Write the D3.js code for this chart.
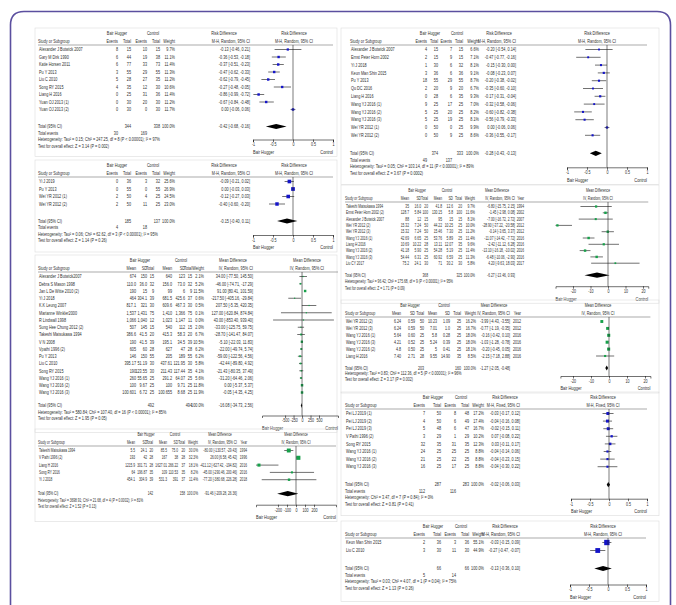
<!DOCTYPE html>
<html>
<head>
<meta charset="utf-8">
<script src="https://cdn.jsdelivr.net/npm/d3@7"></script>
<style>
body{margin:0;background:#fff;}
</style>
</head>
<body>
<svg id="chart" width="676" height="605"></svg>
<script>
const FONT = '"Liberation Sans",Arial,sans-serif';
const NARROW = 0.76; //the figure uses a condensed face, so text is squeezed sideways

//risk difference rows: [study, BH events, BH total, control events, control total, weight %, RD, lower, upper]
const rdInfection = [
	["Alexander J Butwick 2007", 8, 15, 10, 15, 9.7, -0.13, -0.46, 0.21],
	["Gary M Dirk 1990", 6, 44, 19, 38, 11.1, -0.36, -0.53, -0.18],
	["Katie Horsen 2011", 6, 77, 33, 73, 11.4, -0.37, -0.51, -0.23],
	["Pu Y 2013", 3, 55, 29, 55, 11.3, -0.47, -0.62, -0.33],
	["Liu C 2010", 5, 28, 27, 35, 11.2, -0.62, -0.79, -0.45],
	["Song RY 2015", 4, 35, 12, 30, 10.6, -0.27, -0.48, -0.05],
	["Liang H 2016", 0, 25, 31, 36, 11.4, -0.86, -0.99, -0.72],
	["Yuan OJ 2013 (1)", 0, 30, 20, 30, 11.2, -0.67, -0.84, -0.48],
	["Yuan OJ 2013 (2)", 0, 30, 0, 30, 11.7, 0.00, -0.06, 0.06]
];
const rdInfectionTotal = [344, 338, 100.0, -0.42, -0.68, -0.16];
const rdInfectionEvents = [30, 169];
const rdInfectionNotes = ["Heterogeneity: Tau² = 0.15; Chi² = 247.25, df = 8 (P < 0.00001); I² = 97%", "Test for overall effect: Z = 3.14 (P = 0.002)"];

const rdNausea = [
	["Yi J 2019", 0, 36, 3, 32, 25.6, -0.09, -0.21, 0.02],
	["Pu Y 2013", 0, 55, 0, 55, 26.9, 0.00, -0.03, 0.03],
	["Wei YR 2012 (1)", 2, 50, 4, 25, 24.5, -0.12, -0.27, 0.03],
	["Wei YR 2012 (2)", 2, 50, 11, 25, 23.0, -0.40, -0.60, -0.20]
];
const rdNauseaTotal = [185, 137, 100.0, -0.15, -0.40, 0.11];
const rdNauseaEvents = [4, 18];
const rdNauseaNotes = ["Heterogeneity: Tau² = 0.06; Chi² = 62.62, df = 3 (P < 0.00001); I² = 95%", "Test for overall effect: Z = 1.14 (P = 0.26)"];

const rdShiver = [
	["Alexander J Butwick 2007", 4, 15, 7, 15, 6.6, -0.20, -0.54, 0.14],
	["Ernst Peter Horn 2002", 2, 15, 9, 15, 7.1, -0.47, -0.77, -0.16],
	["Yi J 2018", 1, 30, 6, 32, 8.1, -0.15, -0.30, -0.00],
	["Keun Man Shin 2015", 3, 36, 6, 36, 9.1, -0.08, -0.23, 0.07],
	["Pu Y 2013", 18, 55, 29, 55, 8.7, -0.20, -0.38, -0.02],
	["Qu DC 2016", 2, 20, 9, 20, 6.7, -0.35, -0.60, -0.10],
	["Liang H 2016", 0, 28, 6, 35, 9.3, -0.17, -0.31, -0.04],
	["Wang YJ 2016  (1)", 9, 25, 17, 25, 7.0, -0.32, -0.58, -0.06],
	["Wang YJ 2016  (2)", 5, 25, 20, 25, 8.2, -0.60, -0.82, -0.38],
	["Wang YJ 2016  (3)", 5, 25, 19, 25, 8.1, -0.56, -0.79, -0.33],
	["Wei YR 2012  (1)", 0, 50, 0, 25, 9.9, 0.00, -0.06, 0.06],
	["Wei YR 2012  (2)", 0, 50, 9, 25, 8.6, -0.36, -0.55, -0.17]
];
const rdShiverTotal = [374, 333, 100.0, -0.28, -0.43, -0.13];
const rdShiverEvents = [49, 137];
const rdShiverNotes = ["Heterogeneity: Tau² = 0.05; Chi² = 103.14, df = 11 (P < 0.00001); I² = 89%", "Test for overall effect: Z = 3.67 (P = 0.0002)"];

const rdPain = [
	["Pei LJ 2019 (1)", 7, 50, 8, 48, 17.2, -0.03, -0.17, 0.12],
	["Pei LJ 2019 (2)", 4, 50, 6, 49, 17.4, -0.04, -0.16, 0.08],
	["Pei LJ 2019 (3)", 5, 48, 6, 47, 16.7, -0.02, -0.15, 0.11],
	["V Pathi 1996 (2)", 3, 29, 1, 29, 10.2, 0.07, -0.08, 0.22],
	["Song RY 2015", 32, 35, 31, 35, 12.3, 0.03, -0.11, 0.17],
	["Wang YJ 2016 (1)", 24, 25, 25, 25, 8.8, -0.04, -0.14, 0.06],
	["Wang YJ 2016 (2)", 21, 25, 22, 25, 8.8, -0.04, -0.23, 0.15],
	["Wang YJ 2016 (3)", 16, 25, 17, 25, 8.8, -0.04, -0.30, 0.22]
];
const rdPainTotal = [287, 283, 100.0, -0.02, -0.06, 0.03];
const rdPainEvents = [112, 116];
const rdPainNotes = ["Heterogeneity: Chi² = 3.47, df = 7 (P = 0.84); I² = 0%", "Test for overall effect: Z = 0.81 (P = 0.41)"];

const rdItch = [
	["Keun Man Shin 2015", 2, 36, 3, 36, 55.1, -0.03, -0.15, 0.09],
	["Liu C 2010", 3, 30, 11, 30, 44.9, -0.27, -0.47, -0.07]
];
const rdItchTotal = [66, 66, 100.0, -0.13, -0.36, 0.10];
const rdItchEvents = [5, 14];
const rdItchNotes = ["Heterogeneity: Tau² = 0.03; Chi² = 4.07, df = 1 (P = 0.04); I² = 75%", "Test for overall effect: Z = 1.13 (P = 0.26)"];

//mean difference rows: [study, BH mean, BH SD, BH total, control mean, control SD, control total, weight %, MD, lower, upper, (year)]
const mdBlood = [
	["Alexander J Butwick2007", "674", "150", 15, "640", "123", 15, 2.1, 34.00, -77.50, 145.50],
	["Debra S Mason 1998", "110.0", "36.0", 32, "156.0", "73.0", 32, 5.2, -46.00, -74.71, -17.29],
	["Jan L De Witte 2010 (2)", "190", "15", 9, "99", "6", 9, 11.5, 91.00, 80.41, 101.59],
	["Yi J 2018", "464", "304.1", 39, "681.5", "425.6", 37, 0.6, -217.50, -405.16, -29.84],
	["K.K Leung 2007", "817.1", "321", 30, "609.6", "467.3", 30, 0.5, 207.50, -5.35, 420.35],
	["Marianne Winkler2000", "1,537", "1,431", 75, "1,410", "1,366", 75, 0.1, 127.00, -620.84, 874.84],
	["R Lindwall 1998", "1,066", "1,040", 12, "1,023", "1,147", 11, 0.0, 43.00, -853.40, 939.40],
	["Sung Hee Chung 2012 (2)", "507", "145", 15, "540", "112", 15, 2.0, -33.00, -125.75, 59.75],
	["Takeshi Matsukawa 1994", "386.6", "41.5", 20, "415.3", "58.3", 20, 6.7, -28.70, -141.47, 84.07],
	["V N 2008", "190", "41.5", 39, "195.1", "34.5", 39, 10.5, -5.10, -22.03, 11.83],
	["Vpathi 1996 (2)", "605", "60", 28, "627", "47", 28, 6.2, -22.00, -49.74, 5.74],
	["Pu Y 2013", "146", "150", 55, "205", "189", 55, 6.2, -59.00, -122.56, 4.56],
	["Liu C 2010", "395.17", "51.19", 30, "437.61", "121.95", 30, 5.8, -42.44, -89.80, 4.92],
	["Song RY 2015", "190", "123.55", 30, "211.43", "117.44", 35, 4.1, -21.43, -80.35, 37.49],
	["Wang YJ 2016 (1)", "260", "55.65", 25, "291.2", "64.07", 25, 5.6, -31.20, -64.46, 2.06],
	["Wang YJ 2016 (2)", "100", "9.67", 25, "100", "9.71", 25, 11.8, 0.00, -5.37, 5.37],
	["Wang YJ 2016 (3)", "100.601", "6.72", 25, "100.655", "8.68", 25, 11.9, -0.05, -4.35, 4.25]
];
const mdBloodTotal = [492, 494, 100.0, -16.08, -34.73, 2.56];
const mdBloodNotes = ["Heterogeneity: Tau² = 580.84; Chi² = 107.40, df = 16 (P < 0.00001); I² = 85%", "Test for overall effect: Z = 1.95 (P = 0.05)"];

const mdLoss = [
	["Takeshi Matsukawa 1994", "5.5", "24.1", 20, "85.5", "75.0", 20, 30.0, -80.00, -130.57, -29.43, 1994],
	["V Pathi 1996 (2)", "193", "42", 28, "167", "38", 28, 32.3, 26.00, 6.58, 45.42, 1996],
	["Liang H 2016", "1215.9", "301.71", 28, "1627.01", "266.22", 37, 18.1, -411.12, -627.42, -194.82, 2016],
	["Song RY 2016", "64", "196.87", 35, "109", "110.53", 35, 8.2, -45.00, -290.46, 200.46, 2016],
	["Yi J 2018", "454.1", "304.9", 39, "531.3", "391", 37, 11.4, -77.20, -380.68, 226.28, 2018]
];
const mdLossTotal = [142, 158, 100.0, -91.46, -209.28, 26.36];
const mdLossNotes = ["Heterogeneity: Tau² = 3698.91; Chi² = 21.68, df = 4 (P = 0.0002); I² = 81%", "Test for overall effect: Z = 1.52 (P = 0.13)"];

const mdTemp = [
	["Takeshi Matsukawa 1994", "35", "16.0", 20, "41.8", "12.6", 20, 9.7, -6.80, -15.75, 2.15, 1994],
	["Ernst Peter Horn 2002  (2)", "128.7", "5.84", 100, "130.15", "5.8", 100, 11.6, -1.45, -2.98, 0.08, 2002],
	["Alexander J Butwick 2007", "88", "12", 15, "95", "15", 15, 8.1, -7.00, -16.72, 2.72, 2007],
	["Wei YR 2012  (2)", "15.32", "7.24", 50, "44.22", "10.25", 25, 10.0, -28.90, -37.22, -20.58, 2012],
	["Wei YR 2012  (3)", "15.32", "7.24", 50, "15.46", "7.30", 25, 11.2, -0.14, -3.65, 3.37, 2012],
	["Wang YJ 2016  (1)", "42.69", "6.65", 25, "53.76", "5.89", 25, 11.4, -11.07, -14.42, -7.72, 2016],
	["Liang H 2016", "10.69", "10.22", 28, "13.11", "12.07", 35, 9.6, -2.42, -11.12, 6.28, 2016],
	["Wang YJ 2016  (2)", "41.18", "5.90", 25, "54.28", "5.19", 25, 11.4, -13.10, -16.18, -10.02, 2016],
	["Wang YJ 2016  (3)", "54.44", "6.31", 25, "60.92", "6.59", 25, 11.3, -6.48, -10.06, -2.90, 2016],
	["Liu CY 2017", "75.2", "24.1", 30, "71", "30.2", 30, 5.8, 4.20, -9.63, 18.03, 2017]
];
const mdTempTotal = [368, 325, 100.0, -6.27, -13.46, 0.93];
const mdTempNotes = ["Heterogeneity: Tau² = 96.42; Chi² = 175.68, df = 9 (P < 0.00001); I² = 95%", "Test for overall effect: Z = 1.71 (P = 0.09)"];

const mdRecovery = [
	["Wei YR 2012 (2)", "6.24", "0.59", 50, "10.23", "1.09", 25, 16.2, -3.99, -4.43, -3.55, 2012],
	["Wei YR 2012 (3)", "6.24", "0.59", 50, "7.01", "1.0", 25, 16.7, -0.77, -1.19, -0.35, 2012],
	["Wang YJ 2016 (1)", "5.64", "0.60", 25, "5.8", "0.28", 25, 18.0, -0.16, -0.42, 0.10, 2016],
	["Wang YJ 2016 (3)", "4.21", "0.52", 25, "5.24", "0.39", 25, 18.0, -1.03, -1.28, -0.78, 2016],
	["Wang YJ 2016 (2)", "4.8", "0.50", 25, "5", "0.41", 25, 18.1, -0.20, -0.45, 0.05, 2016],
	["Liang H 2016", "7.40", "2.71", 28, "9.55", "14.90", 35, 8.5, -2.15, -7.18, 2.88, 2016]
];
const mdRecoveryTotal = [203, 160, 100.0, -1.27, -2.05, -0.48];
const mdRecoveryNotes = ["Heterogeneity: Tau² = 0.83; Chi² = 112.36, df = 5 (P < 0.00001); I² = 96%", "Test for overall effect: Z = 3.17 (P = 0.002)"];

const ticksRD = [-1, -0.5, 0, 0.5, 1];
const ticksBlood = [-500, -250, 0, 250, 500];
const ticksLoss = [-200, -100, 0, 100, 200];
const ticksTemp = [-20, -10, 0, 10, 20];

const rdHeads = ["Events", "Total", "Events", "Total", "Weight"];
const mdHeads = ["Mean", "SD", "Total", "Mean", "SD", "Total", "Weight"];

//layout of the nine forest plots
const panels = [
	{rows: rdInfection, total: rdInfectionTotal, events: rdInfectionEvents, notes: rdInfectionNotes, type: 'rd', method: 'M-H, Random, 95% CI',
	 top: 33, step: 7.5, totalGap: 17, axisGap: 13, nameX: 38, cols: [118, 131, 147, 160, 175, 250], bh: 117, ctl: 153, eff: 224, plotHdr: 294,
	 domain: [-1, 1], range: [253, 333], ticks: ticksRD, frame: [35, 337]},
	{rows: rdNausea, total: rdNauseaTotal, events: rdNauseaEvents, notes: rdNauseaNotes, type: 'rd', method: 'M-H, Random, 95% CI',
	 top: 165, step: 7.5, totalGap: 17, axisGap: 14, nameX: 38, cols: [118, 131, 147, 160, 175, 250], bh: 117, ctl: 153, eff: 224, plotHdr: 294,
	 domain: [-1, 1], range: [253, 333], ticks: ticksRD, frame: [35, 337]},
	{rows: mdBlood, total: mdBloodTotal, notes: mdBloodNotes, type: 'md', method: 'IV, Random, 95% CI',
	 top: 260, step: 7.25, totalGap: 13, axisGap: 10, nameX: 38, cols: [136, 147, 154, 172, 185, 192, 204, 253], bh: 140, ctl: 181, eff: 233, plotHdr: 307,
	 domain: [-1180, 1060], range: [262, 338], ticks: ticksBlood, frame: [35, 337]},
	{rows: mdLoss, total: mdLossTotal, notes: mdLossNotes, type: 'md', method: 'IV, Random, 95% CI', year: true, fs: 4.6, sx: 0.7,
	 top: 434, step: 7.3, totalGap: 14, axisGap: 11, nameX: 38, cols: [135, 147, 153, 167, 178, 185, 198, 237, 247], bh: 146, ctl: 175, eff: 220, plotHdr: 296,
	 domain: [-444, 444], range: [256, 336], ticks: ticksLoss, frame: [35, 337]},
	{rows: rdShiver, total: rdShiverTotal, events: rdShiverEvents, notes: rdShiverNotes, type: 'rd', method: 'M-H, Random, 95% CI',
	 top: 33, step: 7.8, totalGap: 18, axisGap: 14, nameX: 350, cols: [427, 438, 452, 463, 479, 516], bh: 430, ctl: 457, eff: 499, plotHdr: 597,
	 domain: [-1, 1], range: [567, 647], ticks: ticksRD, frame: [341, 659]},
	{rows: mdTemp, total: mdTempTotal, notes: mdTempNotes, type: 'md', method: 'IV, Random, 95% CI', year: true, fs: 4.6, sx: 0.72,
	 top: 190, step: 6.3, totalGap: 12, axisGap: 11, nameX: 345, cols: [409, 421, 428, 442, 453, 462, 475, 515, 524], bh: 417, ctl: 447, eff: 497, plotHdr: 598,
	 domain: [-30, 23], range: [555.5, 648.25], ticks: ticksTemp, frame: [341, 659]},
	{rows: mdRecovery, total: mdRecoveryTotal, notes: mdRecoveryNotes, type: 'md', method: 'IV, Random, 95% CI', year: true, lh: 5.5, fs: 4.8,
	 top: 305, step: 6.9, totalGap: 12, axisGap: 8, nameX: 345, cols: [401, 415, 424, 437, 450, 461, 476, 510, 521], bh: 410, ctl: 444, eff: 494, plotHdr: 598,
	 domain: [-27, 23], range: [560.4, 650.4], ticks: ticksTemp, frame: [341, 659]},
	{rows: rdPain, total: rdPainTotal, events: rdPainEvents, notes: rdPainNotes, type: 'rd', method: 'M-H, Fixed, 95% CI',
	 top: 397, step: 7.6, totalGap: 18, axisGap: 14, nameX: 345, cols: [425, 441, 456, 469, 484, 520], bh: 433, ctl: 461, eff: 505, plotHdr: 603,
	 domain: [-1, 1], range: [571, 647], ticks: ticksRD, frame: [341, 659]},
	{rows: rdItch, total: rdItchTotal, events: rdItchEvents, notes: rdItchNotes, type: 'rd', method: 'M-H, Random, 95% CI',
	 top: 526, step: 8, totalGap: 18, axisGap: 16, nameX: 345, cols: [425, 441, 456, 469, 484, 520], bh: 433, ctl: 461, eff: 505, plotHdr: 603,
	 domain: [-1, 1], range: [570, 646], ticks: ticksRD, frame: [341, 659]}
];

const svg = d3.select('#chart');

//outer purple frame of the figure
svg.append('path')
	.attr('d', 'M10.5,605 L10.5,25 Q10.5,11.5 24,11.5 L657,11.5 Q670.5,11.5 670.5,25 L670.5,605')
	.style('fill', 'none')
	.style('stroke', '#5b4f9f')
	.style('stroke-width', 1.6);

const ci = (e, l, h) => `${e.toFixed(2)} [${l.toFixed(2)}, ${h.toFixed(2)}]`;

function addText(g, x, y, str, anchor, size, sx){
	return g.append('text')
		.attr('transform', `translate(${x},${y}) scale(${sx || NARROW},1)`)
		.attr('dy', '0.35em')
		.attr('text-anchor', anchor || 'start')
		.style('font-family', FONT)
		.style('font-size', (size || 5) + 'px')
		.style('fill', '#2e2e2e')
		.text(str);
}

panels.forEach(function(p, idx){ renderForest(p, idx); });

function renderForest(p, idx){
	const g = svg.append('g');
	const isRD = p.type === 'rd';
	const lh = p.lh || 6.5;
	const fs = p.fs || 5;
	const txt = function(x, y, s, a){ return addText(g, x, y, s, a, fs, p.sx); };

	const y = d3.scaleLinear().domain([0, 1]).range([p.top + 16.5, p.top + 16.5 + p.step]);
	const totalY = y(p.rows.length - 1) + p.totalGap;
	const axisY = totalY + p.axisGap;
	const x = d3.scaleLinear().domain(p.domain).range(p.range);

	//light frame round each plot
	const bottom = Math.max(axisY + 17, totalY + lh * (isRD ? 3 : 2) + 5);
	g.append('rect')
		.attr('x', p.frame[0]).attr('y', p.top - 5)
		.attr('width', p.frame[1] - p.frame[0]).attr('height', bottom - p.top + 5)
		.style('fill', 'none').style('stroke', '#dcdcdc').style('stroke-width', 0.6);

	//headers
	txt(p.bh, p.top, 'Bair Hugger', 'middle');
	txt(p.ctl, p.top, 'Control', 'middle');
	txt(p.eff, p.top, isRD ? 'Risk Difference' : 'Mean Difference', 'middle');
	txt(p.plotHdr, p.top, isRD ? 'Risk Difference' : 'Mean Difference', 'middle');

	const h2 = p.top + 8.5;
	const heads = (isRD ? rdHeads : mdHeads).concat([p.method]).concat(p.year ? ['Year'] : []);
	txt(p.nameX, h2, 'Study or Subgroup');
	heads.forEach(function(h, i){ txt(p.cols[i], h2, h, 'end'); });
	txt(p.plotHdr, h2, p.method, 'middle');

	g.append('line')
		.attr('x1', p.nameX).attr('x2', p.range[1])
		.attr('y1', p.top + 12).attr('y2', p.top + 12)
		.style('stroke', '#555').style('stroke-width', 0.5);

	//study rows
	const nNum = isRD ? 4 : 6;
	p.rows.forEach(function(r, i){
		const ry = y(i);
		txt(p.nameX + 1, ry, r[0]);
		for (let k = 0; k < nNum; k++) txt(p.cols[k], ry, String(r[k + 1]), 'end');
		txt(p.cols[nNum], ry, r[nNum + 1].toFixed(1) + '%', 'end');
		txt(p.cols[nNum + 1], ry, ci(r[nNum + 2], r[nNum + 3], r[nNum + 4]), 'end');
		if (p.year) txt(p.cols[nNum + 2], ry, String(r[nNum + 5]), 'end');
	});

	//totals
	const t = p.total;
	txt(p.nameX, totalY, 'Total (95% CI)');
	txt(p.cols[isRD ? 1 : 2], totalY, String(t[0]), 'end');
	txt(p.cols[isRD ? 3 : 5], totalY, String(t[1]), 'end');
	txt(p.cols[nNum], totalY, t[2].toFixed(1) + '%', 'end');
	txt(p.cols[nNum + 1], totalY, ci(t[3], t[4], t[5]), 'end');

	let ny = totalY + lh;
	if (isRD) {
		txt(p.nameX, ny, 'Total events');
		txt(p.cols[0], ny, String(p.events[0]), 'end');
		txt(p.cols[2], ny, String(p.events[1]), 'end');
		ny += lh;
	}
	p.notes.forEach(function(n, i){ txt(p.nameX, ny + i * lh, n); });

	//forest plot
	const clipId = 'clip' + idx;
	svg.append('clipPath').attr('id', clipId)
		.append('rect')
		.attr('x', p.range[0]).attr('y', p.top)
		.attr('width', p.range[1] - p.range[0]).attr('height', axisY - p.top);

	const plot = g.append('g').attr('clip-path', `url(#${clipId})`);

	g.append('line')
		.attr('x1', x(0)).attr('x2', x(0))
		.attr('y1', p.top + 12).attr('y2', axisY)
		.style('stroke', '#222').style('stroke-width', 0.6);

	const colour = isRD ? '#1414c8' : '#17a04a';
	const eI = nNum + 2;

	plot.selectAll('line.ci')
		.data(p.rows)
		.enter()
		.append('line')
		.attr('class', 'ci')
		.attr('x1', function(d){ return x(d[eI + 1]); })
		.attr('x2', function(d){ return x(d[eI + 2]); })
		.attr('y1', function(d, i){ return y(i); })
		.attr('y2', function(d, i){ return y(i); })
		.style('stroke', '#111').style('stroke-width', 0.6);

	plot.selectAll('rect.sq')
		.data(p.rows)
		.enter()
		.append('rect')
		.attr('class', 'sq')
		.each(function(d, i){
			const s = Math.max(1.2, 0.72 * Math.sqrt(d[nNum + 1]));
			d3.select(this)
				.attr('x', x(d[eI]) - s / 2).attr('y', y(i) - s / 2)
				.attr('width', s).attr('height', s);
		})
		.style('fill', colour);

	plot.append('path')
		.datum(t)
		.attr('d', function(d){
			return `M${x(d[4])},${totalY} L${x(d[3])},${totalY - 2.6} L${x(d[5])},${totalY} L${x(d[3])},${totalY + 2.6} Z`;
		})
		.style('fill', '#000');

	const axis = d3.axisBottom(x)
		.tickValues(p.ticks)
		.tickSize(2.5)
		.tickPadding(1)
		.tickFormat(function(d){ return String(d); });

	const axG = g.append('g')
		.attr('transform', `translate(0,${axisY})`)
		.call(axis);
	axG.select('.domain').style('stroke', '#111').style('stroke-width', 0.6);
	axG.selectAll('.tick line').style('stroke', '#111').style('stroke-width', 0.6);
	axG.selectAll('.tick text')
		.attr('transform', `scale(${NARROW},1)`)
		.style('font-family', FONT).style('font-size', '4.8px').style('fill', '#2e2e2e');

	addText(g, p.range[0], axisY + 12.5, 'Bair Hugger', 'start', 5.2);
	addText(g, p.range[1], axisY + 12.5, 'Control', 'end', 5.2);
}
</script>
</body>
</html>
